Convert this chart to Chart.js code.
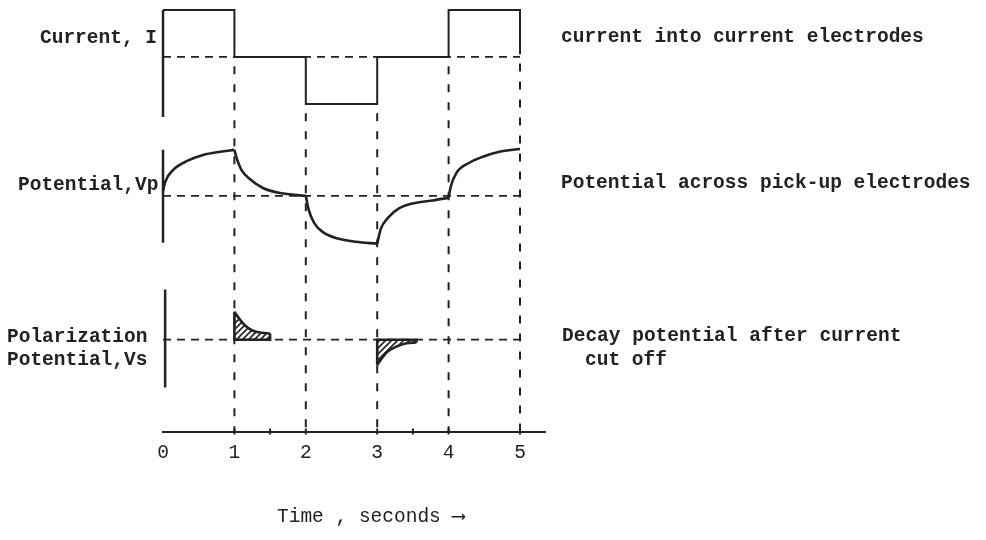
<!DOCTYPE html>
<html><head><meta charset="utf-8">
<script src="https://cdn.jsdelivr.net/npm/chart.js@4.4.1/dist/chart.umd.min.js"></script>
<style>html,body{margin:0;padding:0;background:#fff;}canvas{display:block;}</style>
</head><body>
<canvas id="c" width="986" height="540"></canvas>
<script>
// ---------------- data ----------------
const tickValues = [0, 1, 2, 3, 4, 5];
const tickLabels = ['0', '1', '2', '3', '4', '5'];
const minorTickValues = [1.5, 3.5];

// current into current electrodes (square wave, relative units)
const switchTimes = [0, 1, 2, 3, 4, 5];
const currentLevels = [1, 0, -1, 0, 1];
const currentEndLevel = 0.06;

// potential across pick-up electrodes (relative units)
const potentialTimes  = [0, 0.03, 0.14, 0.34, 0.56, 0.8, 1.0, 1.04, 1.1, 1.22, 1.4, 1.64, 2.0, 2.04, 2.12, 2.25, 2.45, 2.7, 3.0, 3.05, 3.15, 3.31, 3.55, 3.78, 4.0, 4.03, 4.11, 4.29, 4.48, 4.71, 5.0];
const potentialValues = [0.1, 0.3, 0.56, 0.76, 0.89, 0.96, 1.0, 0.78, 0.56, 0.36, 0.17, 0.06, 0.0, -0.3, -0.6, -0.8, -0.93, -1.0, -1.04, -0.72, -0.48, -0.27, -0.15, -0.1, -0.04, 0.2, 0.5, 0.72, 0.85, 0.96, 1.02];
const potentialCorners = [1, 2, 3, 4];

// decay (polarization) potential after current cut off
const decayOnTimes   = [1.0, 1.08, 1.17, 1.26, 1.38, 1.5];
const decayOnValues  = [1.0, 0.71, 0.46, 0.32, 0.25, 0.22];
const decayOffTimes  = [3.0, 3.13, 3.27, 3.41, 3.55];
const decayOffValues = [-0.9, -0.46, -0.25, -0.13, -0.1];

// text
const leftLabels = ['Current, I', 'Potential,Vp', 'Polarization', 'Potential,Vs'];
const rightLabels = ['current into current electrodes', 'Potential across pick-up electrodes', 'Decay potential after current', 'cut off'];
const axisTitle = 'Time , seconds \u27F6';

// ---------------- helpers ----------------
const INK = '#222';
const MONO = '"Liberation Mono", "DejaVu Sans Mono", monospace';
const AREA_TOP = 8, AREA_BOTTOM = 432;

function rangeFor(p0, v0, p1, v1) {
  const k = (v1 - v0) / (p1 - p0);
  return { min: v0 + (AREA_BOTTOM - p0) * k, max: v0 + (AREA_TOP - p0) * k };
}
const rI = rangeFor(57, 0, 10, 1);
const rV = rangeFor(196, 0, 150, 1);
const rS = rangeFor(340, 0, 312, 1);

const pts = (xs, ys) => xs.map((x, i) => ({ x, y: ys[i] }));

// current step points
const currentPts = [];
currentLevels.forEach((lv, i) => {
  currentPts.push({ x: switchTimes[i], y: lv });
  currentPts.push({ x: switchTimes[i + 1], y: lv });
});
currentPts.push({ x: switchTimes[switchTimes.length - 1], y: currentEndLevel });

// potential segments split at corners
const potSegments = [];
{
  let seg = [];
  potentialTimes.forEach((t, i) => {
    seg.push({ x: t, y: potentialValues[i] });
    if (potentialCorners.includes(t)) {
      potSegments.push(seg);
      seg = [{ x: t, y: potentialValues[i] }];
    }
  });
  potSegments.push(seg);
}

// hatch pattern
function hatch() {
  const s = 6, c = document.createElement('canvas');
  c.width = s; c.height = s;
  const g = c.getContext('2d');
  g.strokeStyle = INK; g.lineWidth = 1.6;
  g.beginPath();
  g.moveTo(0, s); g.lineTo(s, 0);
  g.moveTo(-1, 1); g.lineTo(1, -1);
  g.moveTo(s - 1, s + 1); g.lineTo(s + 1, s - 1);
  g.stroke();
  return g.createPattern(c, 'repeat');
}
const pattern = hatch();

const base = { pointRadius: 0, borderColor: INK, fill: false, tension: 0, clip: false };
const datasets = [];

// dashed baselines
['yI', 'yV', 'yS'].forEach(ax => {
  datasets.push({ ...base, yAxisID: ax, borderWidth: 1.8, borderDash: [8, 6],
    data: [{ x: 0, y: 0 }, { x: 5, y: 0 }] });
});
// vertical dashed guides at switching times
switchTimes.slice(1).forEach((t, i) => {
  const before = currentLevels[i];
  const after = i + 1 < currentLevels.length ? currentLevels[i + 1] : currentEndLevel;
  const start = Math.min(before, after) - 0.2;
  datasets.push({ ...base, yAxisID: 'yI', borderWidth: 2, borderDash: [8, 10],
    data: [{ x: t, y: start }, { x: t, y: rI.min }] });
});
// panel axis lines
datasets.push({ ...base, yAxisID: 'yI', borderWidth: 2.5, data: [{ x: 0, y: 1.0 }, { x: 0, y: -1.28 }] });
datasets.push({ ...base, yAxisID: 'yV', borderWidth: 2.5, data: [{ x: 0, y: 1.0 }, { x: 0, y: -1.02 }] });
datasets.push({ ...base, yAxisID: 'yS', borderWidth: 2.5, data: [{ x: 0.03, y: 1.79 }, { x: 0.03, y: -1.71 }] });
// current trace
datasets.push({ ...base, yAxisID: 'yI', borderWidth: 2, data: currentPts });
// potential trace
potSegments.forEach(seg => datasets.push({ ...base, yAxisID: 'yV', borderWidth: 2.6,
  cubicInterpolationMode: 'monotone', data: seg }));
// decay shapes
[[decayOnTimes, decayOnValues], [decayOffTimes, decayOffValues]].forEach(([xs, ys]) => {
  datasets.push({ ...base, yAxisID: 'yS', borderWidth: 2.6, cubicInterpolationMode: 'monotone',
    fill: 'origin', backgroundColor: pattern, data: pts(xs, ys) });
  const n = xs.length - 1;
  datasets.push({ ...base, yAxisID: 'yS', borderWidth: 2.6,
    data: [{ x: xs[0], y: ys[0] }, { x: xs[0], y: 0 }, { x: xs[n], y: 0 }, { x: xs[n], y: ys[n] }] });
});

// text + minor tick plugin
const textPlugin = {
  id: 'texts',
  afterDraw(chart) {
    const ctx = chart.ctx, xs = chart.scales.x, ca = chart.chartArea;
    ctx.save();
    ctx.strokeStyle = INK; ctx.lineWidth = 2;
    ctx.beginPath();
    tickValues.slice(1).concat(minorTickValues).forEach(v => {
      const px = xs.getPixelForValue(v);
      ctx.moveTo(px, ca.bottom - 3); ctx.lineTo(px, ca.bottom + 3);
    });
    ctx.stroke();
    ctx.fillStyle = INK;
    ctx.textBaseline = 'middle';
    ctx.textAlign = 'left';
    ctx.font = 'bold 19.5px ' + MONO;
    const lpos = [[40, 38], [18, 185], [7, 337], [7, 360]];
    leftLabels.forEach((s, i) => ctx.fillText(s, lpos[i][0], lpos[i][1]));
    const rpos = [[561, 37], [561, 183], [562, 336], [585, 360]];
    rightLabels.forEach((s, i) => ctx.fillText(s, rpos[i][0], rpos[i][1]));
    ctx.font = '19.5px ' + MONO;
    ctx.fillText(axisTitle, 277, 517);
    ctx.restore();
  }
};

const bgPlugin = {
  id: 'bg',
  beforeDraw(chart) {
    const c = chart.ctx; c.save(); c.fillStyle = '#fff'; c.fillRect(0, 0, chart.width, chart.height); c.restore();
  }
};

new Chart(document.getElementById('c'), {
  type: 'line',
  data: { datasets },
  options: {
    responsive: false, animation: false, devicePixelRatio: 1,
    layout: { padding: { left: 163, right: 441, top: AREA_TOP, bottom: 65 } },
    plugins: { legend: { display: false }, tooltip: { enabled: false } },
    scales: {
      x: {
        type: 'linear', min: 0, max: 5.35, position: 'bottom',
        grid: { display: false, drawTicks: false },
        border: { display: true, color: INK, width: 2 },
        afterBuildTicks: s => { s.ticks = tickValues.map(v => ({ value: v })); },
        ticks: { padding: 10, color: INK, font: { family: MONO, size: 19.5 },
          callback: (v) => tickLabels[tickValues.indexOf(v)] }
      },
      yI: { type: 'linear', display: false, min: rI.min, max: rI.max },
      yV: { type: 'linear', display: false, min: rV.min, max: rV.max },
      yS: { type: 'linear', display: false, min: rS.min, max: rS.max }
    }
  },
  plugins: [bgPlugin, textPlugin]
});
</script>
</body></html>
